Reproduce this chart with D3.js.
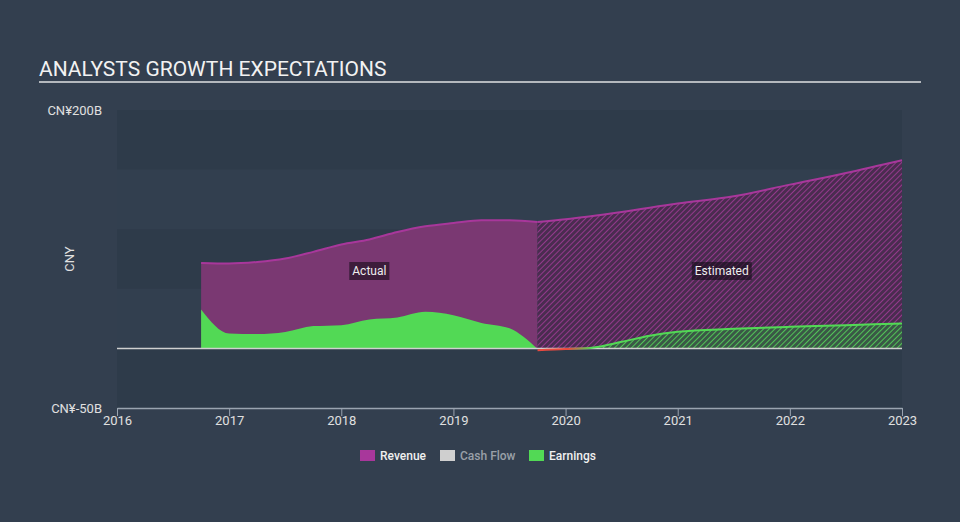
<!DOCTYPE html>
<html>
<head>
<meta charset="utf-8">
<script src="https://cdn.jsdelivr.net/npm/d3@7/dist/d3.min.js"></script>
<style>
html,body{margin:0;padding:0;background:#333f4f;}
svg{display:block;font-family:Roboto,"Noto Sans",sans-serif;}
</style>
</head>
<body>
<svg id="chart" width="960" height="522"></svg>
<script>
// ---- data ----
const title = "ANALYSTS GROWTH EXPECTATIONS";
const xTicks = [2016, 2017, 2018, 2019, 2020, 2021, 2022, 2023];
const yTickLabels = ["CN¥200B", "CN¥-50B"];
const yTickValues = [200, -50];
const bandEdges = [200, 150, 100, 50, 0, -50];

const actualDates   = [2016.75, 2017.0, 2017.25, 2017.5, 2017.75, 2018.0, 2018.25, 2018.5, 2018.75, 2019.0, 2019.25, 2019.5, 2019.75];
const actualRevenue = [71.7, 71.2, 72.5, 75.4, 81.0, 87.2, 91.4, 97.6, 102.4, 105.2, 107.5, 107.5, 106.0];
const actualEarnings= [32.7, 12.5, 12.0, 13.8, 18.7, 19.5, 24.3, 26.0, 30.7, 27.9, 21.4, 16.8, -0.5];

const estRevDates   = [2019.75, 2020.0, 2020.5, 2021.0, 2021.5, 2022.0, 2022.5, 2023.0];
const estRevenue    = [106.0, 108.3, 114.4, 121.5, 127.6, 137.4, 147.1, 157.8];
const estEarnDates  = [2019.75, 2020.0, 2020.25, 2020.5, 2020.75, 2021.0, 2021.5, 2022.0, 2022.5, 2023.0];
const estEarnings   = [-1.5, -0.6, 0.8, 5.5, 10.6, 13.9, 16.4, 18.1, 19.5, 20.9];

const legendNames  = ["Revenue", "Cash Flow", "Earnings"];
const legendColors = ["#a8379b", "#cfcfcf", "#52d955"];
const legendText   = ["#f0f0f0", "#9aa0a8", "#f0f0f0"];

// ---- chart ----
const svg = d3.select("#chart");
const x = d3.scaleLinear().domain([2016, 2023]).range([117, 902]);
const y = d3.scaleLinear().domain([-50, 200]).range([408, 110]);

const defs = svg.append("defs");
function hatch(id, base, line) {
  const p = defs.append("pattern").attr("id", id).attr("patternUnits", "userSpaceOnUse")
    .attr("width", 4).attr("height", 4).attr("patternTransform", "rotate(45)");
  p.append("rect").attr("width", 4).attr("height", 4).attr("fill", base);
  p.append("line").attr("x1", 0).attr("y1", 0).attr("x2", 0).attr("y2", 4)
    .attr("stroke", line).attr("stroke-width", 1.8);
}
hatch("hatchRev", "#4a2c50", "#9a3a92");
hatch("hatchEarn", "#3a5846", "#55d05a");

const grad = defs.append("linearGradient").attr("id", "earnGrad")
  .attr("gradientUnits", "userSpaceOnUse")
  .attr("x1", x(2019.75)).attr("x2", x(2020.35)).attr("y1", 0).attr("y2", 0);
grad.append("stop").attr("offset", 0).attr("stop-color", "#e8493f");
grad.append("stop").attr("offset", 0.45).attr("stop-color", "#e8493f");
grad.append("stop").attr("offset", 0.8).attr("stop-color", "#52d955");
grad.append("stop").attr("offset", 1).attr("stop-color", "#52d955");

// bands
for (let i = 0; i < bandEdges.length - 1; i += 2) {
  svg.append("rect")
    .attr("x", x(2016)).attr("width", x(2023) - x(2016))
    .attr("y", y(bandEdges[i])).attr("height", y(bandEdges[i + 1]) - y(bandEdges[i]))
    .attr("fill", "#2e3b4a");
}
for (let i = 1; i < bandEdges.length - 1; i += 2) {
  svg.append("rect")
    .attr("x", x(2016)).attr("width", x(2023) - x(2016))
    .attr("y", y(bandEdges[i])).attr("height", y(bandEdges[i + 1]) - y(bandEdges[i]))
    .attr("fill", "#323f4f");
}

// title
svg.append("text").attr("x", 39).attr("y", 76).text(title)
  .attr("fill", "#f2f2f2").attr("font-size", 21);
svg.append("line").attr("x1", 39).attr("x2", 921).attr("y1", 82).attr("y2", 82)
  .attr("stroke", "#b4b8bd").attr("stroke-width", 2);

const curve = d3.curveMonotoneX;
const zip = (xs, vs) => xs.map((d, i) => [d, vs[i]]);

const area = d3.area().x(d => x(d[0])).y0(y(0)).y1(d => y(d[1])).curve(curve);
const line = d3.line().x(d => x(d[0])).y(d => y(d[1])).curve(curve);

// revenue
const revA = zip(actualDates, actualRevenue);
const revE = zip(estRevDates, estRevenue);
svg.append("path").attr("d", area(revA)).attr("fill", "#7a3872");
svg.append("path").attr("d", area(revE)).attr("fill", "url(#hatchRev)");
svg.append("path").attr("d", line(revA)).attr("fill", "none").attr("stroke", "#a8379b").attr("stroke-width", 2);
svg.append("path").attr("d", line(revE)).attr("fill", "none").attr("stroke", "#a8379b").attr("stroke-width", 2);

// earnings
const earnA = zip(actualDates, actualEarnings);
const earnE = zip(estEarnDates, estEarnings);
svg.append("path").attr("d", area(earnA)).attr("fill", "#52d955");
svg.append("path").attr("d", area(earnE.filter(d => d[0] >= 2020.0))).attr("fill", "url(#hatchEarn)");

// zero line
svg.append("line").attr("x1", x(2016)).attr("x2", x(2023)).attr("y1", y(0)).attr("y2", y(0))
  .attr("stroke", "#d0d0d0").attr("stroke-width", 1.5);

svg.append("path").attr("d", line(earnE)).attr("fill", "none").attr("stroke", "url(#earnGrad)").attr("stroke-width", 2);

// x axis
const xAxis = svg.append("g").attr("transform", `translate(0,${y(-50)})`)
  .call(d3.axisBottom(x).tickValues(xTicks).tickFormat(d3.format("d")).tickSize(8).tickSizeOuter(0));
xAxis.select(".domain").attr("stroke", "#9aa4b0").attr("stroke-width", 1.5);
xAxis.selectAll(".tick line").attr("stroke", "#9aa4b0");
xAxis.selectAll(".tick text").attr("fill", "#e0e0e0").attr("font-size", 13)
  .attr("font-family", "Roboto, sans-serif").attr("dy", "0.6em").attr("y", 9);

// y labels
svg.selectAll(".ylab").data(yTickValues).enter().append("text")
  .attr("x", 102).attr("y", d => y(d)).attr("dy", "0.35em").attr("text-anchor", "end")
  .attr("fill", "#e0e0e0").attr("font-size", 13).text((d, i) => yTickLabels[i]);
svg.append("text").attr("transform", `translate(74,${(y(200) + y(-50)) / 2}) rotate(-90)`)
  .attr("text-anchor", "middle").attr("fill", "#e0e0e0").attr("font-size", 13).text("CNY");

// Actual / Estimated labels
function tag(label, cx) {
  const g = svg.append("g");
  const t = g.append("text").attr("x", cx).attr("y", 271).attr("dy", "0.35em")
    .attr("text-anchor", "middle").attr("fill", "#eeeeee").attr("font-size", 12).text(label);
  const bb = t.node().getBBox();
  g.insert("rect", "text").attr("x", bb.x - 3).attr("y", 262).attr("width", bb.width + 6).attr("height", 18)
    .attr("fill", "rgba(20,12,24,0.6)");
}
tag("Actual", x((actualDates[0] + actualDates[actualDates.length - 1]) / 2));
tag("Estimated", x((estRevDates[0] + estRevDates[estRevDates.length - 1]) / 2) + 2);

// legend
const legX = [360, 440, 529];
legendNames.forEach((n, i) => {
  svg.append("rect").attr("x", legX[i]).attr("y", 450).attr("width", 15).attr("height", 11).attr("fill", legendColors[i]);
  svg.append("text").attr("x", legX[i] + 20).attr("y", 456).attr("dy", "0.35em")
    .attr("fill", legendText[i]).attr("font-size", 12).attr("font-weight", 500).text(n);
});
</script>
</body>
</html>
